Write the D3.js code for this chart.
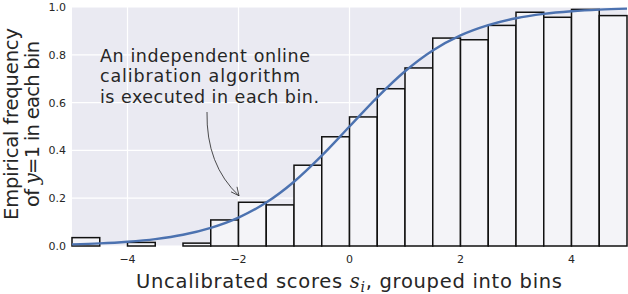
<!DOCTYPE html>
<html>
<head>
<meta charset="utf-8">
<script src="https://cdn.jsdelivr.net/npm/d3@7"></script>
<style>
  body { margin: 0; background: #fff; }
  text { font-family: "DejaVu Sans", sans-serif; fill: #262626; }
</style>
</head>
<body>
<svg id="chart"></svg>
<script>
// bins of width 0.5 from -5 to 5
const binStarts = [-5, -4.5, -4, -3.5, -3, -2.5, -2, -1.5, -1, -0.5, 0, 0.5, 1, 1.5, 2, 2.5, 3, 3.5, 4, 4.5];
const binFreq = [0.035, 0, 0.015, 0, 0.012, 0.109, 0.183, 0.172, 0.338, 0.457,
                 0.540, 0.658, 0.745, 0.870, 0.863, 0.923, 0.978, 0.957, 0.990, 0.964];
// calibration curve
const curveX = [-5, -4.5, -4, -3.5, -3, -2.5, -2, -1.5, -1, -0.5, 0, 0.5, 1, 1.5, 2, 2.5, 3, 3.5, 4, 4.5, 5];
const curveY = [0.007, 0.011, 0.018, 0.029, 0.047, 0.076, 0.119, 0.182, 0.269, 0.378, 0.5,
                0.622, 0.731, 0.818, 0.881, 0.924, 0.953, 0.971, 0.982, 0.989, 0.993];
const xTicks = [-4, -2, 0, 2, 4];
const yTicks = [0, 0.2, 0.4, 0.6, 0.8, 1.0];
const binWidth = 0.5;

const W = 628, H = 294;
const margin = {top: 7, right: 1, bottom: 48, left: 72};

const svg = d3.select('#chart').attr('width', W).attr('height', H);

const x = d3.scaleLinear().domain([-5, 5]).range([margin.left, W - margin.right]);
const y = d3.scaleLinear().domain([0, 1]).range([H - margin.bottom, margin.top]);

// background
svg.append('rect')
    .attr('x', x(-5)).attr('y', y(1))
    .attr('width', x(5) - x(-5)).attr('height', y(0) - y(1))
    .attr('fill', '#EAEAF2');

// grid
svg.append('g').selectAll('line.gx')
    .data(xTicks).enter().append('line')
    .attr('x1', d => x(d)).attr('x2', d => x(d))
    .attr('y1', y(0)).attr('y2', y(1))
    .attr('stroke', '#fff').attr('stroke-width', 1.2);
svg.append('g').selectAll('line.gy')
    .data(yTicks).enter().append('line')
    .attr('x1', x(-5)).attr('x2', x(5))
    .attr('y1', d => y(d)).attr('y2', d => y(d))
    .attr('stroke', '#fff').attr('stroke-width', 1.2);

// bars
svg.append('g').selectAll('rect')
    .data(binStarts).enter().append('rect')
    .attr('x', d => x(d))
    .attr('width', d => x(d + binWidth) - x(d))
    .attr('y', (d, i) => y(binFreq[i]))
    .attr('height', (d, i) => y(0) - y(binFreq[i]))
    .attr('fill', '#F4F4F8')
    .attr('stroke', '#111')
    .attr('stroke-width', 1.5);

// curve
const line = d3.line()
    .x(d => x(d[0])).y(d => y(d[1]))
    .curve(d3.curveMonotoneX);
svg.append('path')
    .datum(curveX.map((v, i) => [v, curveY[i]]))
    .attr('d', line)
    .attr('fill', 'none')
    .attr('stroke', '#4C72B0')
    .attr('stroke-width', 2.4);

// tick labels
svg.append('g').selectAll('text')
    .data(xTicks).enter().append('text')
    .attr('x', d => x(d)).attr('y', y(0) + 17)
    .attr('text-anchor', 'middle')
    .attr('font-size', 11)
    .text(d => d < 0 ? '\u2212' + Math.abs(d) : d);
svg.append('g').selectAll('text')
    .data(yTicks).enter().append('text')
    .attr('x', x(-5) - 6).attr('y', d => y(d) + 4)
    .attr('text-anchor', 'end')
    .attr('font-size', 11)
    .text(d => d.toFixed(1));

// x axis label
const xl = svg.append('text')
    .attr('x', 136).attr('y', 288)
    .attr('font-size', 19.5)
    .attr('textLength', 426)
    .attr('lengthAdjust', 'spacing');
xl.append('tspan').text('Uncalibrated scores ');
xl.append('tspan').attr('font-style', 'italic').attr('font-family', 'DejaVu Serif').text('s');
xl.append('tspan').attr('font-style', 'italic').attr('font-family', 'DejaVu Serif')
    .attr('font-size', 14).attr('dy', 4).text('i');
xl.append('tspan').attr('dy', -4).text(', grouped into bins');

// y axis label, two lines
svg.append('text')
    .attr('transform', `translate(18,${124}) rotate(-90)`)
    .attr('text-anchor', 'middle')
    .attr('font-size', 19.5)
    .attr('textLength', 192)
    .attr('lengthAdjust', 'spacing')
    .text('Empirical frequency');
const yl2 = svg.append('text')
    .attr('transform', `translate(39,${124}) rotate(-90)`)
    .attr('text-anchor', 'middle')
    .attr('font-size', 19.5)
    .attr('textLength', 166)
    .attr('lengthAdjust', 'spacing');
yl2.append('tspan').text('of ');
yl2.append('tspan').attr('font-style', 'italic').attr('font-family', 'DejaVu Serif').text('y');
yl2.append('tspan').text('=1 in each bin');

// annotation
const notes = ['An independent online', 'calibration algorithm', 'is executed in each bin.'];
const noteLen = [210, 200, 219];
svg.append('g').selectAll('text')
    .data(notes).enter().append('text')
    .attr('x', 100).attr('y', (d, i) => 61.5 + i * 20.9)
    .attr('font-size', 17.5)
    .attr('textLength', (d, i) => noteLen[i])
    .attr('lengthAdjust', 'spacing')
    .text(d => d);

// curved arrow pointing to a bin
const ax0 = 207, ay0 = 112, ax1 = x(-2) + 0.5, ay1 = y(0.21);
svg.append('path')
    .attr('d', `M${ax0},${ay0} Q206,165 ${ax1},${ay1}`)
    .attr('fill', 'none').attr('stroke', '#222').attr('stroke-width', 0.8);
svg.append('path')
    .attr('d', `M${ax1 - 8},${ay1 - 4} L${ax1},${ay1} L${ax1 - 2},${ay1 - 9}`)
    .attr('fill', 'none').attr('stroke', '#222').attr('stroke-width', 0.8);
</script>
</body>
</html>
